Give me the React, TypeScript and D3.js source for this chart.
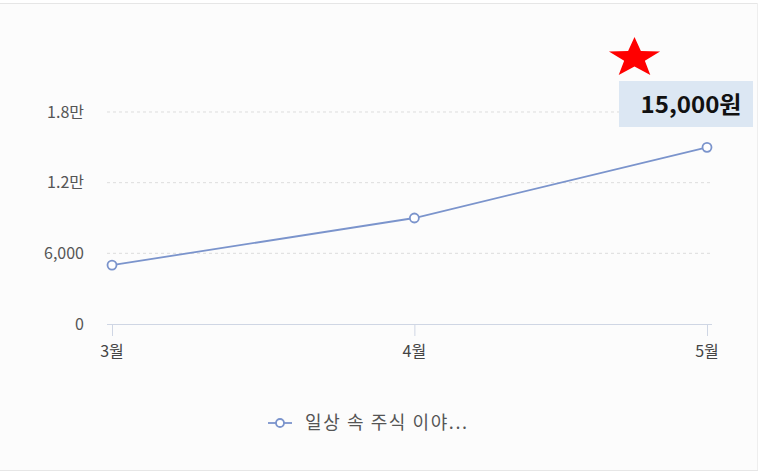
import React from "react";
import * as d3 from "d3";

const categories = ["3월", "4월", "5월"];
const categoryDates = [new Date(2024, 2, 1), new Date(2024, 3, 1), new Date(2024, 4, 1)];
const values = [5000, 9000, 15000];
const yTicks = [0, 6000, 12000, 18000];
const yTickLabels = ["0", "6,000", "1.2만", "1.8만"];
const seriesName = "일상 속 주식 이야...";
const calloutText = "15,000원";

const W = 764;
const H = 475;
const FONT = "'Noto Sans CJK KR', 'Noto Sans', sans-serif";
const LINE = "#7b94cc";

export default function App() {
  const x = d3
    .scaleTime()
    .domain([categoryDates[0], categoryDates[categoryDates.length - 1]])
    .range([112, 707]);
  const y = d3.scaleLinear().domain([0, 18000]).range([324, 112]);
  const line = d3
    .line<number>()
    .x((_, i) => x(categoryDates[i]))
    .y((d) => y(d));

  const lastX = x(categoryDates[categoryDates.length - 1]);
  const starPts = (cx: number, cy: number, R: number, r: number, sx: number) => {
    const pts: string[] = [];
    for (let i = 0; i < 10; i++) {
      const a = -Math.PI / 2 + (i * Math.PI) / 5;
      const rad = i % 2 === 0 ? R : r;
      pts.push(`${cx + sx * rad * Math.cos(a)},${cy + rad * Math.sin(a)}`);
    }
    return pts.join(" ");
  };

  return (
    <svg
      width={W}
      height={H}
      style={{ position: "absolute", left: 0, top: 0, fontFamily: FONT }}
    >
      <rect x={0} y={0} width={W} height={H} fill="#ffffff" />
      <rect x={0} y={4} width={757} height={466} fill="#fcfcfc" />
      <line x1={0} x2={758} y1={3.5} y2={3.5} stroke="#e6e6e6" />
      <line x1={757.5} x2={757.5} y1={3} y2={470} stroke="#eeeeee" />
      <line x1={0} x2={758} y1={470.5} y2={470.5} stroke="#e6e6e6" />

      {yTicks.map((t, i) => (
        <g key={t}>
          {t !== 0 && (
            <line
              x1={107}
              x2={712}
              y1={y(t)}
              y2={y(t)}
              stroke="#dddddd"
              strokeDasharray="3,3"
            />
          )}
          <text
            x={84}
            y={y(t)}
            dy="0.35em"
            textAnchor="end"
            fontSize={16}
            fill="#555"
          >
            {yTickLabels[i]}
          </text>
        </g>
      ))}

      <line x1={107} x2={712} y1={324.5} y2={324.5} stroke="#cfd6e4" />
      {categories.map((c, i) => {
        const cx = x(categoryDates[i]);
        return (
          <g key={c}>
            <line
              x1={cx + 0.5}
              x2={cx + 0.5}
              y1={324}
              y2={336}
              stroke="#cfd6e4"
            />
            <text
              x={cx}
              y={357}
              textAnchor="middle"
              fontSize={16}
              fill="#444"
            >
              {c}
            </text>
          </g>
        );
      })}

      <path d={line(values) || ""} fill="none" stroke={LINE} strokeWidth={1.8} />
      {values.map((v, i) => (
        <circle
          key={i}
          cx={x(categoryDates[i])}
          cy={y(v)}
          r={4.5}
          fill="#fff"
          stroke={LINE}
          strokeWidth={1.8}
        />
      ))}

      <polygon points={starPts(634.5, 58, 21, 8.5, 1.28)} fill="#ff0000" />
      <rect x={619} y={81} width={134} height={46} fill="#dce7f3" />
      <text
        x={lastX - 16}
        y={105}
        dy="0.35em"
        textAnchor="middle"
        fontSize={23}
        fontWeight="bold"
        fill="#111"
        textLength={101}
        lengthAdjust="spacingAndGlyphs"
      >
        {calloutText}
      </text>

      <line x1={268} x2={292} y1={423} y2={423} stroke={LINE} strokeWidth={1.8} />
      <circle cx={280} cy={423} r={4} fill="#fff" stroke={LINE} strokeWidth={1.8} />
      <text
        x={305}
        y={423}
        dy="0.35em"
        fontSize={18}
        fill="#555"
        textLength={162}
        lengthAdjust="spacing"
      >
        {seriesName}
      </text>
    </svg>
  );
}
